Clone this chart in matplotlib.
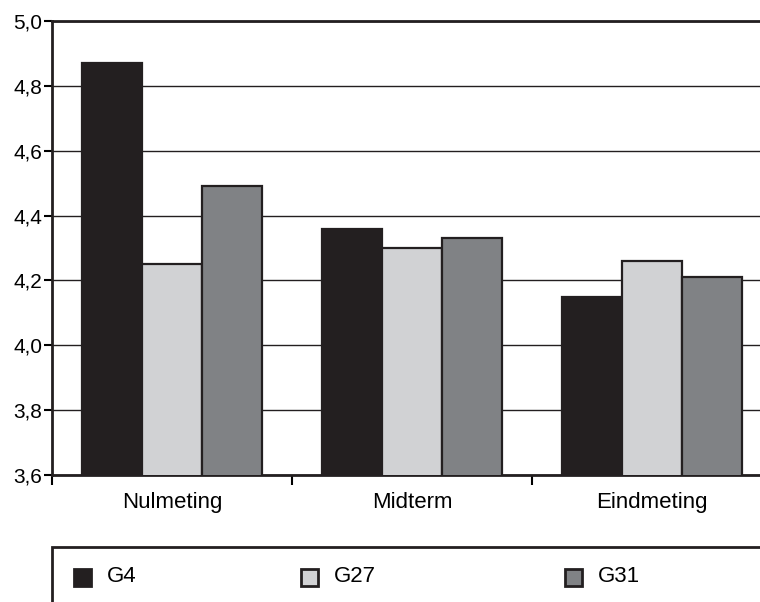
import numpy as np
import matplotlib
matplotlib.use("Agg")
import matplotlib.pyplot as plt
from matplotlib.patches import Rectangle
from matplotlib.ticker import FuncFormatter

plt.rcParams['font.family'] = ['Liberation Sans', 'DejaVu Sans']

# data
categories = ['Nulmeting', 'Midterm', 'Eindmeting']
series = ['G4', 'G27', 'G31']
g4 = [4.87, 4.36, 4.15]
g27 = [4.25, 4.30, 4.26]
g31 = [4.49, 4.33, 4.21]
yticks = [3.6, 3.8, 4.0, 4.2, 4.4, 4.6, 4.8, 5.0]

colors = ['#231f20', '#d1d2d4', '#808285']
edge = '#231f20'

W, H = 760, 602
fig = plt.figure(figsize=(W / 100, H / 100), dpi=100)

# axes runs a little past the right edge of the picture, as in the original
ax = fig.add_axes([52 / W, 1 - 475 / H, 720 / W, 454 / H])

x = np.arange(len(categories))
bw = 0.25
for i, (vals, c) in enumerate(zip([g4, g27, g31], colors)):
    ax.bar(x + (i - 1) * bw, vals, width=bw, bottom=0, color=c,
           edgecolor=edge, linewidth=1.6, zorder=3)

ax.set_ylim(3.6, 5.0)
ax.set_xlim(-0.5, 2.5)
ax.set_yticks(yticks)
ax.yaxis.set_major_formatter(FuncFormatter(lambda v, p: f'{v:.1f}'.replace('.', ',')))
ax.grid(axis='y', color='#231f20', lw=1.0, zorder=0)

# category labels between tick marks at group boundaries
ax.set_xticks([-0.5, 0.5, 1.5, 2.5])
ax.set_xticklabels([])
ax.set_xticks(x, minor=True)
ax.set_xticklabels(categories, minor=True, fontsize=16)
ax.tick_params(axis='x', which='minor', length=0, pad=12)
ax.tick_params(axis='x', which='major', length=7, width=1.5, direction='out')
ax.tick_params(axis='y', length=6, width=1.5, direction='out', labelsize=15, pad=1)

for s in ['left', 'bottom', 'top']:
    ax.spines[s].set_linewidth(2)
    ax.spines[s].set_color('#231f20')
ax.spines['right'].set_visible(False)

# legend box, cropped at the right and bottom like the reference
fig.patches.append(Rectangle((52 / W, -0.2), 1.0, 0.2 + (1 - 547 / H),
                             transform=fig.transFigure, fill=False,
                             edgecolor='#231f20', lw=2))
leg_x = [74, 301, 565]
ly = 1 - 577 / H
for name, c, px in zip(series, colors, leg_x):
    fig.patches.append(Rectangle((px / W, ly - 8.5 / H), 17 / W, 17 / H,
                                 transform=fig.transFigure, facecolor=c,
                                 edgecolor=edge, lw=2))
    fig.text((px + 33) / W, ly, name, fontsize=16, va='center', ha='left')

fig.savefig('out.png', dpi=100, facecolor='white')
